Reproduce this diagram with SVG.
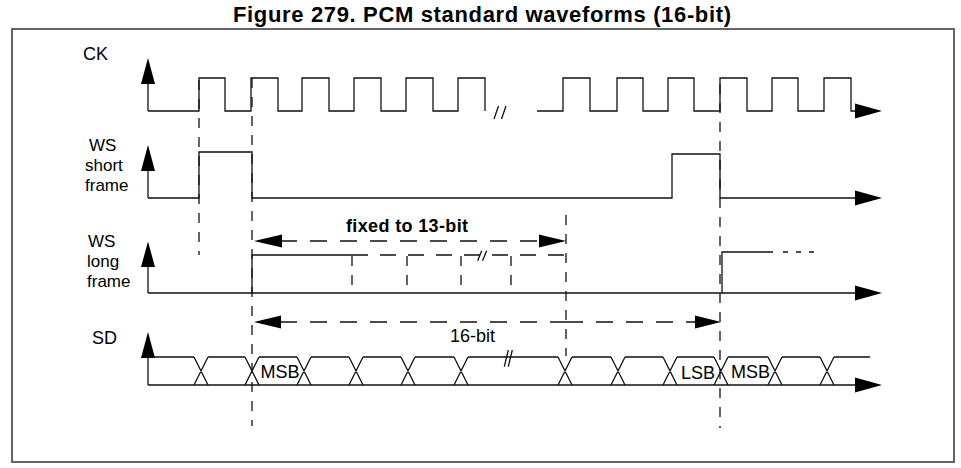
<svg xmlns="http://www.w3.org/2000/svg" width="961" height="468" viewBox="0 0 961 468">
<style>
  .t{font-family:"Liberation Sans",Arial,sans-serif;fill:#000}
  .lbl{font-size:18px}
  .sl{font-size:17px}
  .w{fill:none;stroke:#111;stroke-width:1.3}
  .d{fill:none;stroke:#111;stroke-width:1.3;stroke-dasharray:10 9}
  .dd{fill:none;stroke:#111;stroke-width:1.3;stroke-dasharray:17 13}
  .ah{fill:#000;stroke:none}
  .frame{fill:#fff;stroke:#555;stroke-width:1.8}
</style>
<rect width="961" height="468" fill="#fff"/>
<text class="t" x="482" y="22" font-size="22" font-weight="bold" text-anchor="middle" textLength="498" lengthAdjust="spacing">Figure 279. PCM standard waveforms (16-bit)</text>
<rect class="frame" x="12" y="29" width="942" height="433"/>

<g id="ck">
  <text class="t lbl" x="83" y="60">CK</text>
  <path class="w" d="M148,111 V82"/>
  <polygon class="ah" points="148,58 141,84 155,84"/>
  <path class="w" d="M148,111 H199 V78 H225 V111 H251 V78 H278 V111 H302 V78 H329 V111 H354 V78 H381 V111 H406 V78 H433 V111 H458 V78 H485 V111"/>
  <path class="w" d="M537,111 H563 V78 H590 V111 H617 V78 H643 V111 H668 V78 H694 V111 H720 V78 H747 V111 H772 V78 H798 V111 H824 V78 H851 V111 H857"/>
  <path class="w" d="M494,119 L498.5,106 M501.5,119 L506,106"/>
  <polygon class="ah" points="882,111 855,103.5 855,118.5"/>
</g>

<g id="ws-short">
  <text class="t sl" x="89" y="151">WS</text>
  <text class="t sl" x="85" y="171">short</text>
  <text class="t sl" x="85" y="191">frame</text>
  <path class="w" d="M148,198 V169"/>
  <polygon class="ah" points="148,145 141,171 155,171"/>
  <path class="w" d="M148,198 H199 V152 H252 V198 H672 V154 H720 V198 H857"/>
  <polygon class="ah" points="882,198 855,190.5 855,205.5"/>
</g>

<g id="ws-long">
  <text class="t sl" x="88" y="247">WS</text>
  <text class="t sl" x="87" y="267">long</text>
  <text class="t sl" x="87" y="287">frame</text>
  <path class="w" d="M148,293 V264"/>
  <polygon class="ah" points="148,241.5 141,267 155,267"/>
  <path class="w" d="M148,293 H857"/>
  <path class="w" d="M252,293 V255 H352"/>
  <path class="w" d="M352,255 H566" stroke-dasharray="16 12"/>
  <path class="d" d="M352,256 V293 M407,256 V293 M461,256 V293 M511,256 V293"/>
  <path class="w" d="M477.7,260.7 L481.7,250.7 M482.5,260.7 L486.7,250.7"/>
  <path class="w" d="M722,293 V252 H773"/>
  <path class="w" d="M783,252 H817" stroke-dasharray="5 8"/>
  <polygon class="ah" points="882,293 855,285.5 855,300.5"/>
</g>

<g id="sd">
  <text class="t lbl" x="92" y="344">SD</text>
  <path class="w" d="M148,385 V356"/>
  <polygon class="ah" points="148,332 141,358 155,358"/>
  <path class="w" d="M148,385 H857"/>
  <path class="w" d="M148,357 H194 M208,357 H245 M259,357 H297 M311,357 H349 M363,357 H401 M415,357 H454 M468,357 H558 M572,357 H611 M625,357 H663 M677,357 H714 M728,357 H768 M782,357 H820 M834,357 H870"/>
  <path class="w" d="M194,357 L208,385 M194,385 L208,357 M245,357 L259,385 M245,385 L259,357 M297,357 L311,385 M297,385 L311,357 M349,357 L363,385 M349,385 L363,357 M401,357 L415,385 M401,385 L415,357 M454,357 L468,385 M454,385 L468,357 M558,357 L572,385 M558,385 L572,357 M611,357 L625,385 M611,385 L625,357 M663,357 L677,385 M663,385 L677,357 M714,357 L728,385 M714,385 L728,357 M768,357 L782,385 M768,385 L782,357 M820,357 L834,385 M820,385 L834,357"/>
  <path class="w" d="M504.3,366.7 L508.3,350 M508.3,366.7 L512.3,350"/>
  <text class="t lbl" x="260.5" y="377.5">MSB</text>
  <text class="t lbl" x="681" y="379">LSB</text>
  <text class="t lbl" x="731" y="378">MSB</text>
  <polygon class="ah" points="882,385 855,377.5 855,392.5"/>
</g>

<g id="connectors">
  <path class="d" d="M199,80 V255"/>
  <path class="d" d="M252,78 V426"/>
  <path class="d" d="M566,215 V356"/>
  <path class="d" d="M720,84 V428"/>
  <path class="dd" d="M280,241 H542"/>
  <polygon class="ah" points="254,241 282,234.5 282,247.5"/>
  <polygon class="ah" points="566,241 539,234.5 539,247.5"/>
  <text class="t" x="346" y="232" font-size="18" font-weight="bold" textLength="122" lengthAdjust="spacing">fixed to 13-bit</text>
  <path class="dd" d="M280,322 H566 M566,322 H698"/>
  <polygon class="ah" points="254,322 281,315.5 281,328.5"/>
  <polygon class="ah" points="721,322 695,315.5 695,328.5"/>
  <text class="t lbl" x="450" y="342">16-bit</text>
</g>
</svg>
